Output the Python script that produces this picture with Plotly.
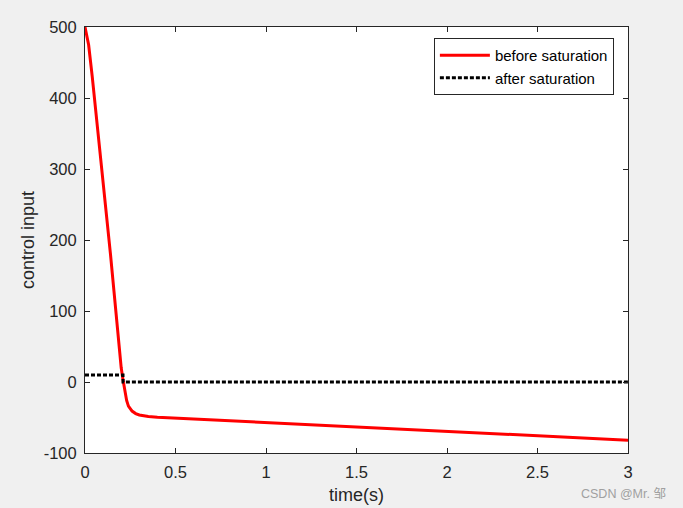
import plotly.graph_objects as go

# data
t_before = [0, 0.02, 0.04, 0.06, 0.08, 0.10, 0.12, 0.14, 0.16, 0.18, 0.20, 0.21, 0.22, 0.23, 0.24, 0.26, 0.28, 0.30, 0.35, 0.40, 3.0]
u_before = [500, 475, 430, 382, 333, 283, 234, 182, 128, 70, 20, 3, -15, -26, -34, -41, -44.5, -46.5, -48.5, -49.5, -82]

t_after = [0, 0.21, 3.0]
u_after = [10, 0, 0]

x_ticks = [0, 0.5, 1, 1.5, 2, 2.5, 3]
x_tick_labels = ["0", "0.5", "1", "1.5", "2", "2.5", "3"]
y_ticks = [-100, 0, 100, 200, 300, 400, 500]
y_tick_labels = ["-100", "0", "100", "200", "300", "400", "500"]

fig = go.Figure()
fig.add_trace(go.Scatter(x=t_before, y=u_before, mode="lines", name="before saturation",
                         line=dict(color="#ff0000", width=3)))
fig.add_trace(go.Scatter(x=t_after, y=u_after, mode="lines", name="after saturation",
                         line=dict(color="#000000", width=3, dash="4px,2px", shape="hv")))

FONT = "Liberation Sans, Arial, sans-serif"
axis_common = dict(showline=True, linecolor="#262626", linewidth=1, mirror="ticks",
                   ticks="inside", ticklen=5, tickcolor="#262626", showgrid=False, zeroline=False,
                   ticklabelstandoff=4, automargin=False,
                   tickfont=dict(family=FONT, size=16.5, color="#262626"))

fig.update_layout(
    width=683, height=508,
    paper_bgcolor="#f0f0f0", plot_bgcolor="#ffffff",
    margin=dict(l=85, r=55, t=27, b=55),
    font=dict(family=FONT, color="#262626"),
    xaxis=dict(range=[0, 3], tickvals=x_ticks, ticktext=x_tick_labels,
               title=dict(text="time(s)", font=dict(size=18, color="#262626"), standoff=8),
               **axis_common),
    yaxis=dict(range=[-100, 500], tickvals=y_ticks, ticktext=y_tick_labels,
               title=dict(text="control input", font=dict(size=18, color="#262626"), standoff=4),
               **axis_common),
    legend=dict(x=0.974, y=0.974, xanchor="right", yanchor="top",
                bgcolor="#ffffff", bordercolor="#262626", borderwidth=1,
                font=dict(family=FONT, size=15, color="#000000"),
                tracegroupgap=0, itemwidth=50),
    showlegend=True,
)
fig.add_annotation(text="CSDN @Mr. 邹", xref="paper", yref="paper",
                   x=(668 - 85) / 543, y=(453 - 493) / 426, xanchor="right", yanchor="middle",
                   showarrow=False,
                   font=dict(family="Liberation Sans, Noto Sans CJK SC", size=12.5, color="#a0a0a0"))

fig.write_html("out.html", config={"displayModeBar": False},
               post_script="document.body.style.margin='0';document.body.style.padding='0';"
                           "document.body.style.background='#f0f0f0';")
